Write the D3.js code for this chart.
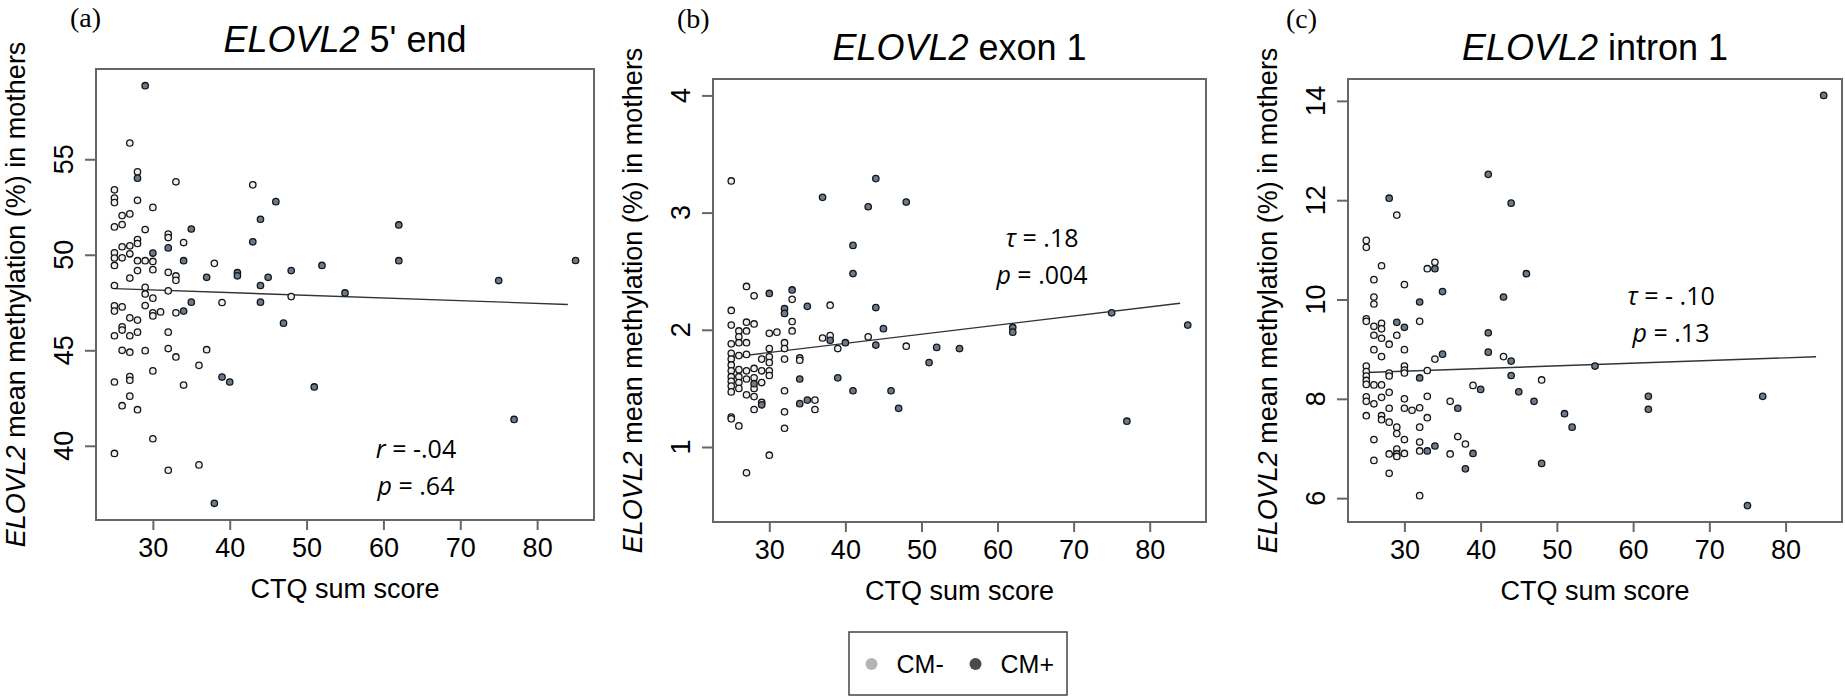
<!DOCTYPE html>
<html>
<head>
<meta charset="utf-8">
<script src="https://cdn.jsdelivr.net/npm/d3@7"></script>
<style>
  body { margin: 0; background: #fff; }
  text { font-family: "Liberation Sans", Arial, sans-serif; fill: #000; }
</style>
</head>
<body>
<svg width="1845" height="699"></svg>
<script>
// CTQ sum score, mean ELOVL2 methylation (%)
let ctqTicks = [30, 40, 50, 60, 70, 80];
let groupLabels = ['CM-', 'CM+'];

// (a) 5' end
let fiveEndTicks = [40, 45, 50, 55];
let fiveEndNeg = [
  [25, 53.40], [25, 52.97], [25, 52.73], [25, 51.46], [25, 50.10], [25, 49.83], [25, 49.44], [25, 48.39],
  [25, 47.33], [25, 47.05], [25, 45.76], [25, 43.34], [25, 39.60],
  [26, 52.05], [26, 51.58], [26, 50.42], [26, 49.84], [26, 47.27], [26, 46.23], [26, 46.06], [26, 45.00], [26, 42.10],
  [27, 55.85], [27, 52.14], [27, 50.47], [27, 50.05], [27, 48.78], [27, 46.70], [27, 45.76], [27, 44.90],
  [27, 43.62], [27, 43.43], [27, 42.60],
  [28, 54.34], [28, 52.85], [28, 50.80], [28, 50.59], [28, 49.69], [28, 49.17], [28, 46.58], [28, 45.95], [28, 41.89],
  [29, 51.32], [29, 49.69], [29, 48.30], [29, 47.95], [29, 47.34], [29, 44.98],
  [30, 52.48], [30, 49.65], [30, 49.22], [30, 47.73], [30, 46.96], [30, 46.80], [30, 43.92], [30, 40.37],
  [31, 47.01],
  [32, 51.08], [32, 50.90], [32, 49.08], [32, 48.11], [32, 45.95], [32, 45.09], [32, 38.72],
  [33, 53.82], [33, 48.89], [33, 48.66], [33, 46.96], [33, 44.65],
  [34, 50.64], [34, 43.18], [36, 44.21], [36, 39.00], [37, 45.03], [38, 49.55], [39, 47.50],
  [43, 53.66], [48, 47.81]
];
let fiveEndPos = [
  [28, 54.01], [29, 58.85], [30, 50.09], [32, 50.36], [34, 49.69], [34, 47.05], [35, 51.35], [35, 47.52],
  [37, 48.82], [38, 36.99], [39, 43.60], [40, 43.34], [41, 49.06], [41, 48.90], [43, 50.68], [44, 51.86],
  [44, 48.39], [44, 47.52], [45, 48.82], [46, 52.78], [47, 46.42], [48, 49.17], [51, 43.08], [52, 49.44],
  [55, 48.00], [62, 51.56], [62, 49.69], [75, 48.65], [77, 41.38], [85, 49.70]
];
let fiveEndFit = [[25, 48.23], [84, 47.40]];

// (b) exon 1
let exonTicks = [1, 2, 3, 4];
let exonLimits = [0.5, 4];
let exonNeg = [
  [25, 3.27], [25, 2.165], [25, 2.04], [25, 1.88], [25, 1.80], [25, 1.75], [25, 1.70], [25, 1.65],
  [25, 1.60], [25, 1.56], [25, 1.52], [25, 1.47], [25, 1.255], [25, 1.24],
  [26, 1.99], [26, 1.94], [26, 1.89], [26, 1.78], [26, 1.66], [26, 1.60], [26, 1.55], [26, 1.50], [26, 1.18],
  [27, 2.37], [27, 2.065], [27, 1.99], [27, 1.89], [27, 1.79], [27, 1.65], [27, 1.58], [27, 1.445], [27, 0.78],
  [28, 2.29], [28, 2.05], [28, 1.67], [28, 1.59], [28, 1.50], [28, 1.43], [28, 1.32],
  [29, 1.75], [29, 1.65], [29, 1.55], [29, 1.38],
  [30, 1.97], [30, 1.84], [30, 1.77], [30, 1.72], [30, 1.65], [30, 1.61], [30, 0.93],
  [31, 1.98],
  [32, 1.89], [32, 1.84], [32, 1.75], [32, 1.48], [32, 1.30], [32, 1.16],
  [33, 2.26], [33, 2.07], [33, 1.99], [34, 1.76], [34, 1.74], [36, 1.40], [36, 1.32],
  [37, 1.93], [38, 2.21], [38, 1.95], [39, 1.84], [43, 1.94], [48, 1.86]
];
let exonPos = [
  [28, 1.54], [29, 1.36], [30, 2.31], [32, 2.18], [32, 2.14], [33, 2.34], [34, 1.58], [34, 1.37],
  [35, 2.20], [35, 1.40], [37, 3.13], [38, 1.91], [39, 1.59], [40, 1.89], [41, 2.72], [41, 2.48],
  [41, 1.48], [43, 3.05], [44, 3.29], [44, 2.19], [44, 1.87], [45, 2.01], [46, 1.48], [47, 1.33],
  [48, 3.09], [51, 1.72], [52, 1.85], [55, 1.84], [62, 2.02], [62, 1.98], [75, 2.145], [77, 1.22], [85, 2.04]
];
let exonFit = [[25, 1.767], [84, 2.227]];

// (c) intron 1
let intronTicks = [6, 8, 10, 12, 14];
let intronNeg = [
  [25, 11.19], [25, 11.05], [25, 9.61], [25, 9.56], [25, 8.66], [25, 8.55], [25, 8.46], [25, 8.37],
  [25, 8.29], [25, 8.04], [25, 7.95], [25, 7.66],
  [26, 10.40], [26, 10.05], [26, 9.91], [26, 9.46], [26, 9.28], [26, 8.99], [26, 8.28], [26, 7.90], [26, 7.18], [26, 6.76],
  [27, 10.68], [27, 9.52], [27, 9.41], [27, 9.22], [27, 8.85], [27, 8.28], [27, 8.03], [27, 7.66], [27, 7.58],
  [28, 9.10], [28, 8.52], [28, 8.46], [28, 8.13], [28, 7.81], [28, 7.53], [28, 6.89], [28, 6.50],
  [29, 11.70], [29, 9.28], [29, 7.43], [29, 7.30], [29, 6.99], [29, 6.89], [29, 6.84],
  [30, 10.30], [30, 8.99], [30, 8.66], [30, 8.58], [30, 8.52], [30, 8.00], [30, 7.81], [30, 7.18], [30, 6.90],
  [31, 7.77],
  [32, 9.56], [32, 7.82], [32, 7.43], [32, 7.13], [32, 6.95], [32, 6.05],
  [33, 10.62], [33, 8.57], [33, 8.05], [33, 7.62], [34, 10.75], [34, 8.80],
  [36, 7.95], [36, 6.89], [37, 7.24], [38, 7.09], [39, 8.27], [43, 8.85], [48, 8.38]
];
let intronPos = [
  [28, 12.04], [29, 9.54], [30, 9.44], [32, 9.95], [32, 8.42], [33, 6.95], [34, 10.62], [34, 7.05],
  [35, 10.16], [35, 8.90], [37, 7.81], [38, 6.59], [39, 6.90], [40, 8.19], [41, 12.52], [41, 9.33],
  [41, 8.94], [43, 10.05], [44, 11.94], [44, 8.76], [44, 8.47], [45, 8.14], [46, 10.52], [47, 7.95],
  [48, 6.70], [51, 7.70], [52, 7.43], [55, 8.66], [62, 8.05], [62, 7.79], [75, 5.85], [77, 8.05], [85, 14.11]
];
let intronFit = [[25, 8.53], [84, 8.846]];

let panels = [
  { letter: '(a)', region: " 5' end", neg: fiveEndNeg, pos: fiveEndPos, fit: fiveEndFit, yTicks: fiveEndTicks,
    stat: ['r', ' = -.04'], pval: ' = .64' },
  { letter: '(b)', region: ' exon 1', neg: exonNeg, pos: exonPos, fit: exonFit, yTicks: exonTicks, yLimits: exonLimits,
    stat: ['\u03c4', ' = .18'], pval: ' = .004' },
  { letter: '(c)', region: ' intron 1', neg: intronNeg, pos: intronPos, fit: intronFit, yTicks: intronTicks,
    stat: ['\u03c4', ' = - .10'], pval: ' = .13' }
];

// pixel layout of each panel
let layouts = [
  { left: 96, right: 594, top: 69, bottom: 520, titleY: 52, letterX: 70, letterY: 27, noteX: 416, noteY: 458 },
  { left: 713, right: 1206, top: 79, bottom: 522, titleY: 60, letterX: 677, letterY: 28, noteX: 1042, noteY: 247 },
  { left: 1348, right: 1842, top: 79, bottom: 522, titleY: 60, letterX: 1286, letterY: 28, noteX: 1671, noteY: 305 }
];

let svg = d3.select('svg');

// R style axis range: 4% padding either side
function padded(lim) {
  let d = (lim[1] - lim[0]) * 0.04;
  return [lim[0] - d, lim[1] + d];
}

panels.forEach(function(p, i) {
  drawPanel(p, layouts[i]);
});

function drawPanel(p, lay) {
  let all = p.neg.concat(p.pos);
  let x = d3.scaleLinear()
    .domain(padded(d3.extent(all, d => d[0])))
    .range([lay.left, lay.right]);
  let y = d3.scaleLinear()
    .domain(padded(p.yLimits || d3.extent(all, d => d[1])))
    .range([lay.bottom, lay.top]);

  let g = svg.append('g');

  // x axis
  let xa = g.append('g')
    .attr('transform', 'translate(0,' + lay.bottom + ')')
    .call(d3.axisBottom(x).tickValues(ctqTicks).tickSize(10).tickFormat(d3.format('d')));
  xa.select('.domain').remove();
  xa.selectAll('line').attr('stroke', '#666').attr('stroke-width', 2);
  xa.selectAll('text')
    .attr('y', 37).attr('dy', null)
    .style('font-size', '27px').style('fill', '#000');

  // y axis ticks; labels drawn separately, parallel to the axis
  let ya = g.append('g')
    .attr('transform', 'translate(' + lay.left + ',0)')
    .call(d3.axisLeft(y).tickValues(p.yTicks).tickSize(11).tickFormat(''));
  ya.select('.domain').remove();
  ya.selectAll('line').attr('stroke', '#666').attr('stroke-width', 2);

  g.selectAll('text.ytick')
    .data(p.yTicks)
    .join('text')
    .attr('class', 'ytick')
    .attr('transform', d => 'translate(' + (lay.left - 23) + ',' + y(d) + ') rotate(-90)')
    .attr('text-anchor', 'middle')
    .style('font-size', '27px')
    .text(d3.format('d'));

  // plot box
  g.append('rect')
    .attr('x', lay.left).attr('y', lay.top)
    .attr('width', lay.right - lay.left).attr('height', lay.bottom - lay.top)
    .style('fill', 'none').style('stroke', '#666').style('stroke-width', 2);

  // regression line
  g.append('path')
    .datum(p.fit)
    .attr('d', d3.line().x(d => x(d[0])).y(d => y(d[1])))
    .style('fill', 'none').style('stroke', '#333').style('stroke-width', 1.4);

  // points
  g.selectAll('circle.neg')
    .data(p.neg)
    .join('circle')
    .attr('class', 'neg')
    .attr('cx', d => x(d[0]))
    .attr('cy', d => y(d[1]))
    .attr('r', 3.2)
    .style('fill', '#eeeeee').style('stroke', '#151515').style('stroke-width', 1.3);

  g.selectAll('circle.pos')
    .data(p.pos)
    .join('circle')
    .attr('class', 'pos')
    .attr('cx', d => x(d[0]))
    .attr('cy', d => y(d[1]))
    .attr('r', 3.2)
    .style('fill', '#6a7b8e').style('stroke', '#151515').style('stroke-width', 1.3);

  let cx = (lay.left + lay.right) / 2;

  // title
  let t = g.append('text')
    .attr('x', cx).attr('y', lay.titleY)
    .attr('text-anchor', 'middle')
    .style('font-size', '36px');
  t.append('tspan').style('font-style', 'italic').text('ELOVL2');
  t.append('tspan').text(p.region);

  // axis titles
  g.append('text')
    .attr('x', cx).attr('y', lay.bottom + 78)
    .attr('text-anchor', 'middle')
    .style('font-size', '27px')
    .text('CTQ sum score');

  let yl = g.append('text')
    .attr('transform', 'translate(' + (lay.left - 71) + ',' + ((lay.top + lay.bottom) / 2) + ') rotate(-90)')
    .attr('text-anchor', 'middle')
    .style('font-size', '27px');
  yl.append('tspan').style('font-style', 'italic').text('ELOVL2');
  yl.append('tspan').text(' mean methylation (%) in mothers');

  // panel letter
  g.append('text')
    .attr('x', lay.letterX).attr('y', lay.letterY)
    .style('font-family', '"Liberation Serif", "Times New Roman", serif')
    .style('font-size', '28px')
    .text(p.letter);

  // statistics
  let s1 = g.append('text')
    .attr('x', lay.noteX).attr('y', lay.noteY)
    .attr('text-anchor', 'middle')
    .style('font-family', '"Open Sans", sans-serif').style('font-size', '25px');
  s1.append('tspan').style('font-style', 'italic').text(p.stat[0]);
  s1.append('tspan').text(p.stat[1]);

  let s2 = g.append('text')
    .attr('x', lay.noteX).attr('y', lay.noteY + 37)
    .attr('text-anchor', 'middle')
    .style('font-family', '"Open Sans", sans-serif').style('font-size', '25px');
  s2.append('tspan').style('font-style', 'italic').text('p');
  s2.append('tspan').text(p.pval);
}

// legend
let legendX = d3.scaleOrdinal().domain(groupLabels).range([871.5, 975.5]);
let legendFill = d3.scaleOrdinal().domain(groupLabels).range(['#b4b4b4', '#4a4a4a']);

let lg = svg.append('g');
lg.append('rect')
  .attr('x', 849).attr('y', 632).attr('width', 218).attr('height', 63)
  .style('fill', 'none').style('stroke', '#444').style('stroke-width', 1.5);

let item = lg.selectAll('g.item')
  .data(groupLabels)
  .join('g')
  .attr('class', 'item')
  .attr('transform', d => 'translate(' + legendX(d) + ',664)');

item.append('circle')
  .attr('r', 6)
  .style('fill', d => legendFill(d));

item.append('text')
  .attr('x', 25).attr('y', 9)
  .style('font-size', '25px')
  .text(d => d);
</script>
</body>
</html>
